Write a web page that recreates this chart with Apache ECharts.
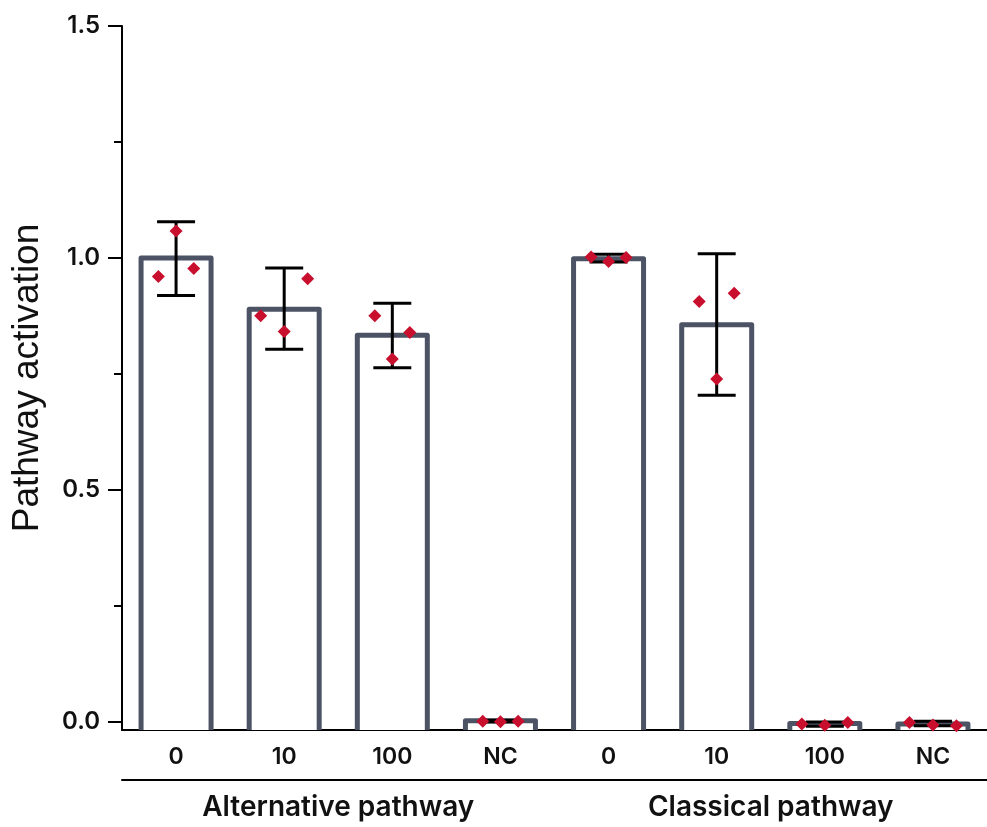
<!DOCTYPE html>
<html>
<head>
<meta charset="utf-8">
<script src="https://cdn.jsdelivr.net/npm/echarts@6/dist/echarts.min.js"></script>
<style>
  html, body { margin: 0; padding: 0; background: #ffffff; }
  #chart { width: 987px; height: 827px; }
</style>
</head>
<body>
<div id="chart"></div>
<script>
// ---------------- DATA ----------------
const groupNames = ['Alternative pathway', 'Classical pathway'];
const doseLabels = ['0', '10', '100', 'NC', '0', '10', '100', 'NC'];
const barMeans   = [1.000, 0.889, 0.833, 0.002, 0.998, 0.856, -0.004, -0.005];
const errLow     = [0.919, 0.803, 0.763, -0.001, 0.991, 0.704, -0.010, -0.009];
const errHigh    = [1.078, 0.978, 0.902, 0.003, 1.008, 1.009, -0.001, 0.001];
const repLeft    = [0.960, 0.875, 0.875, 0.001, 1.002, 0.906, -0.005, -0.002];
const repCenter  = [1.058, 0.841, 0.782, 0.000, 0.992, 0.739, -0.008, -0.007];
const repRight   = [0.977, 0.955, 0.839, 0.001, 1.001, 0.924, -0.002, -0.009];
const yMajorTicks = [0, 0.5, 1.0, 1.5];
const yMinorTicks = [0.25, 0.75, 1.25];
const yTitle = 'Pathway activation';

// ---------------- STYLE ----------------
const Y_MIN = -0.018, Y_MAX = 1.5;
const BAR_COLOR = '#4b5364';
const DOT_COLOR = '#c8102e';
const BAR_W = 70, BAR_STROKE = 5;
const CAP_HALF = 19;
const JITTER = [17.7, 23.5, 17.5, 17.7, 17.5, 17.5, 23, 23.5];
const FONT = 'Inter, "DejaVu Sans", sans-serif';
const TITLE_FONT = '"Liberation Sans", Arial, sans-serif';

const catIds = doseLabels.map((d, i) => i + '|' + d);
const barData = barMeans.map((v, i) => [i, v]);
const errData = errLow.map((l, i) => [i, l, errHigh[i]]);
const dotData = [];
[repLeft, repCenter, repRight].forEach((arr, r) => arr.forEach((v, i) => dotData.push([i, v, r])));

const chart = echarts.init(document.getElementById('chart'), null, { renderer: 'canvas' });
chart.setOption({
  backgroundColor: '#ffffff',
  animation: false,
  grid: { left: 122, top: 26, width: 872, height: 704 },
  xAxis: [{
    type: 'category', data: catIds, position: 'bottom',
    axisLine: { show: true, onZero: false, lineStyle: { color: '#000', width: 2 } },
    axisTick: { show: false },
    axisLabel: { formatter: v => v.split('|')[1], fontFamily: FONT, fontSize: 23, fontWeight: 600, color: '#111', margin: 16 },
    splitLine: { show: false }
  }, {
    type: 'category', data: groupNames, position: 'bottom', offset: 50,
    axisLine: { show: true, onZero: false, lineStyle: { color: '#000', width: 2 } },
    axisTick: { show: false },
    axisLabel: { fontFamily: FONT, fontSize: 28, fontWeight: 600, color: '#111', margin: 14 },
    splitLine: { show: false }
  }],
  yAxis: [{
    type: 'value', min: Y_MIN, max: Y_MAX, position: 'left',
    axisLine: { show: true, lineStyle: { color: '#000', width: 2 } },
    axisTick: { show: true, length: 14, customValues: yMajorTicks, lineStyle: { color: '#000', width: 2 } },
    axisLabel: { customValues: yMajorTicks, formatter: v => v.toFixed(1), fontFamily: FONT, fontSize: 24, fontWeight: 600, color: '#111', margin: 22 },
    splitLine: { show: false },
    name: yTitle, nameLocation: 'middle', nameRotate: 90, nameGap: 76,
    nameTextStyle: { fontFamily: TITLE_FONT, fontSize: 37, fontWeight: 400, color: '#111' }
  }, {
    type: 'value', min: Y_MIN, max: Y_MAX, position: 'left',
    axisLine: { show: false },
    axisTick: { show: true, length: 8, customValues: yMinorTicks, lineStyle: { color: '#000', width: 2 } },
    axisLabel: { show: false },
    splitLine: { show: false }
  }],
  series: [{
    type: 'custom', xAxisIndex: 0, yAxisIndex: 0, data: barData, encode: { x: 0, y: 1 }, z: 2,
    renderItem: function (params, api) {
      const i = api.value(0), v = api.value(1);
      const base = api.coord([i, Y_MIN]);
      const top = api.coord([i, v]);
      const xl = top[0] - BAR_W / 2, xr = top[0] + BAR_W / 2;
      return { type: 'group', children: [
        { type: 'rect', shape: { x: xl, y: top[1], width: BAR_W, height: base[1] - top[1] }, style: { fill: '#fff' } },
        { type: 'polyline', shape: { points: [[xl, base[1]], [xl, top[1]], [xr, top[1]], [xr, base[1]]] },
          style: { stroke: BAR_COLOR, lineWidth: BAR_STROKE, fill: null, lineJoin: 'round' } }
      ]};
    }
  }, {
    type: 'custom', xAxisIndex: 0, yAxisIndex: 0, data: errData, encode: { x: 0, y: [1, 2] }, z: 3,
    renderItem: function (params, api) {
      const i = api.value(0);
      const lo = api.coord([i, api.value(1)]);
      const hi = api.coord([i, api.value(2)]);
      const st = { stroke: '#000', lineWidth: 3 };
      return { type: 'group', children: [
        { type: 'line', shape: { x1: lo[0], y1: lo[1], x2: hi[0], y2: hi[1] }, style: st },
        { type: 'line', shape: { x1: lo[0] - CAP_HALF, y1: lo[1], x2: lo[0] + CAP_HALF, y2: lo[1] }, style: st },
        { type: 'line', shape: { x1: hi[0] - CAP_HALF, y1: hi[1], x2: hi[0] + CAP_HALF, y2: hi[1] }, style: st }
      ]};
    }
  }, {
    type: 'custom', xAxisIndex: 0, yAxisIndex: 0, data: dotData, encode: { x: 0, y: 1 }, z: 4,
    renderItem: function (params, api) {
      const i = api.value(0), r = api.value(2);
      const p = api.coord([i, api.value(1)]);
      const x = p[0] + (r - 1) * JITTER[i], y = p[1];
      return { type: 'polygon', shape: { points: [[x, y - 6.5], [x + 6.5, y], [x, y + 6.5], [x - 6.5, y]] },
        style: { fill: DOT_COLOR } };
    }
  }]
});
</script>
</body>
</html>
